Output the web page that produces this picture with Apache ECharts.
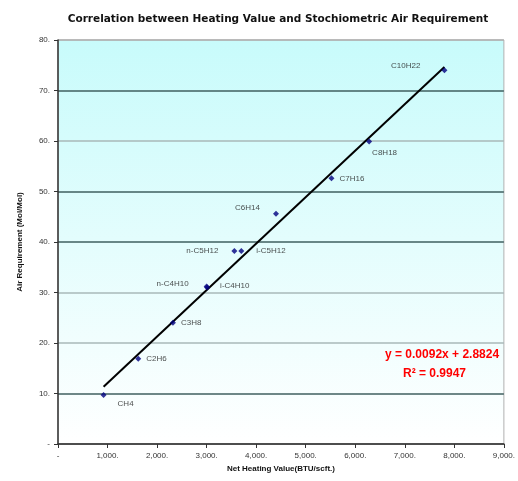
<!DOCTYPE html>
<html><head><meta charset="utf-8">
<script src="https://cdn.jsdelivr.net/npm/echarts@6/dist/echarts.min.js"></script>
<style>html,body{margin:0;padding:0;background:#fff}#c{width:518px;height:481px}</style>
</head><body><div id="c"></div>
<script>
const compounds = ['CH4','C2H6','C3H8','n-C4H10','i-C4H10','n-C5H12','i-C5H12','C6H14','C7H16','C8H18','C10H22'];
const heatingValue = [920, 1620, 2320, 3000, 3010, 3560, 3700, 4400, 5520, 6280, 7800];
const airRequirement = [9.7, 16.9, 24.0, 31.2, 31.0, 38.2, 38.2, 45.6, 52.6, 59.9, 74.0];
const trendX = [920, 7800];
const trendY = [11.35, 74.64];
const equationText = 'y = 0.0092x + 2.8824';
const r2Text = 'R\u00b2 = 0.9947';
const xTickLabels = ['-', '1,000.', '2,000.', '3,000.', '4,000.', '5,000.', '6,000.', '7,000.', '8,000.', '9,000.'];
const yTickLabels = ['-', '10.', '20.', '30.', '40.', '50.', '60.', '70.', '80.'];

// label layout (position, offset) per point
const labelLayout = [
  ['right',[6,9]], ['right',[0,0]], ['right',[0,0]], ['left',[-10,-3]], ['right',[5,-2]],
  ['left',[-8,0]], ['right',[7,0]], ['left',[-8,-6]], ['right',[0,0]], ['right',[-5,11]], ['left',[-16,-5]]
];

const font = 'Liberation Sans, Arial, sans-serif';
const chart = echarts.init(document.getElementById('c'), null, {renderer:'canvas'});
const pts = heatingValue.map((x,i)=>({
  value:[x, airRequirement[i]], name: compounds[i],
  label:{show:true, formatter: compounds[i], position: labelLayout[i][0], offset: labelLayout[i][1]}
}));
chart.setOption({
  animation:false,
  title:{text:'Correlation between Heating Value and Stochiometric Air Requirement', left:273, top:9, textAlign:'center',
    textStyle:{fontFamily:'DejaVu Sans, sans-serif', fontSize:10.5, fontWeight:'bold', color:'#111'}},
  grid:{left:58, right:10, top:40, bottom:37, show:true, borderColor:'#b0b0b0', borderWidth:1,
    backgroundColor:new echarts.graphic.LinearGradient(0,0,0,1,[{offset:0,color:'#c8fbfb'},{offset:1,color:'#ffffff'}])},
  xAxis:{type:'value', min:0, max:9000, interval:1000, name:'Net Heating Value(BTU/scft.)', nameLocation:'middle', nameGap:19,
    nameTextStyle:{fontFamily:font, fontSize:8, fontWeight:'bold', color:'#111'},
    axisLine:{show:true, lineStyle:{color:'#333', width:1.5}}, axisTick:{show:true, length:4, lineStyle:{color:'#333'}},
    axisLabel:{fontFamily:font, fontSize:8, color:'#333', margin:8, formatter:(v)=>xTickLabels[Math.round(v/1000)]},
    splitLine:{show:false}},
  yAxis:{type:'value', min:0, max:80, interval:10, name:'Air Requirement (Mol/Mol)', nameLocation:'middle', nameGap:34, nameRotate:90,
    nameTextStyle:{fontFamily:font, fontSize:8, fontWeight:'bold', color:'#111'},
    axisLine:{show:true, lineStyle:{color:'#333', width:1.5}}, axisTick:{show:true, length:4, lineStyle:{color:'#333'}},
    axisLabel:{fontFamily:font, fontSize:8, color:'#333', margin:8, formatter:(v)=>yTickLabels[Math.round(v/10)]},
    splitLine:{show:true, lineStyle:{width:1.5, color:['#888','#3f5f5f','#a8b8b8','#a8b8b8','#3f5f5f','#3f5f5f','#a8b8b8','#3f5f5f','#b0b0b0']}}},
  series:[
    {type:'line', data: trendX.map((x,i)=>[x, trendY[i]]), symbol:'none', lineStyle:{color:'#000', width:2}, z:2},
    {type:'scatter', data: pts, symbol:'diamond', symbolSize:6, itemStyle:{color:'#00007f'}, z:3,
      label:{fontFamily:font, fontSize:8, color:'#222'}}
  ],
  graphic:[
    {type:'text', left:385, top:349, style:{text:equationText, fontFamily:font, fontSize:12, fontWeight:'bold', fill:'#ff0000'}},
    {type:'text', left:403, top:368, style:{text:r2Text, fontFamily:font, fontSize:12, fontWeight:'bold', fill:'#ff0000'}}
  ]
});
</script></body></html>
